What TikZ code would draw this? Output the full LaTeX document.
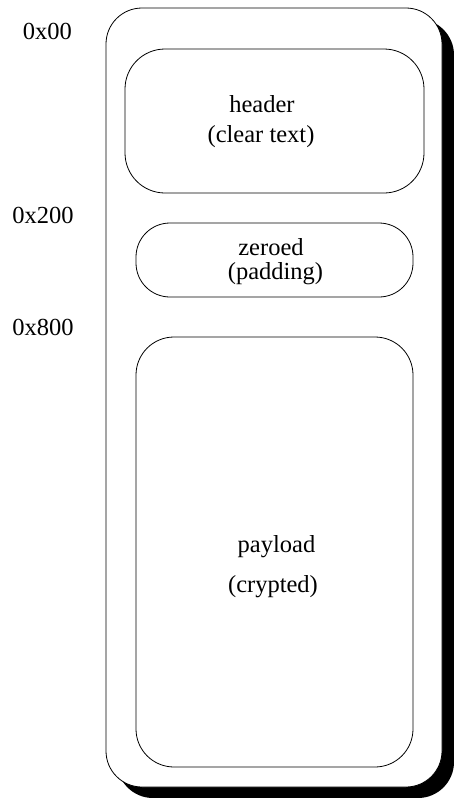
\documentclass[tikz,border=0pt]{standalone}
\usepackage{fontspec}
\setmainfont{Liberation Serif}
\begin{document}
\begin{tikzpicture}[x=1pt, y=-1pt,
  every node/.style={font=\fontsize{24.5}{30}\selectfont},
  area/.style={draw, line width=0.8pt, rounded corners=38pt, inner sep=0pt, fill=white},
  txt/.style={anchor=base, inner sep=0pt}]
\useasboundingbox (0,0) rectangle (454,798);

% Outer image with shadow
\fill[black, rounded corners=36pt] (117,19) rectangle (454,798);
\node[area, rounded corners=36pt, minimum width=336pt, minimum height=779pt] (image) at (274,397.5) {};

% Regions
\node[area, rounded corners=40pt, minimum width=299pt, minimum height=144pt] (header) at (274.5,121) {};
\node[area, rounded corners=34pt, minimum width=277pt, minimum height=74pt] (zeroed) at (274.5,260) {};
\node[area, minimum width=277pt, minimum height=430pt] (payload) at (274.5,552) {};

% Region labels
\node[txt] (headerA) at (262,112.5) {header};
\node[txt] (headerB) at (261,142.5) {(clear text)};
\node[txt] (zeroedA) at (271,255) {zeroed};
\node[txt] (zeroedB) at (275.5,279.5) {(padding)};
\node[txt] (payloadA) at (276.5,552) {payload};
\node[txt] (payloadB) at (273,592) {(crypted)};

% Offsets
\node[txt] (off0) at (47.5,39) {0x00};
\node[txt] (off200) at (43,223) {0x200};
\node[txt] (off800) at (43,335) {0x800};
\end{tikzpicture}
\end{document}
